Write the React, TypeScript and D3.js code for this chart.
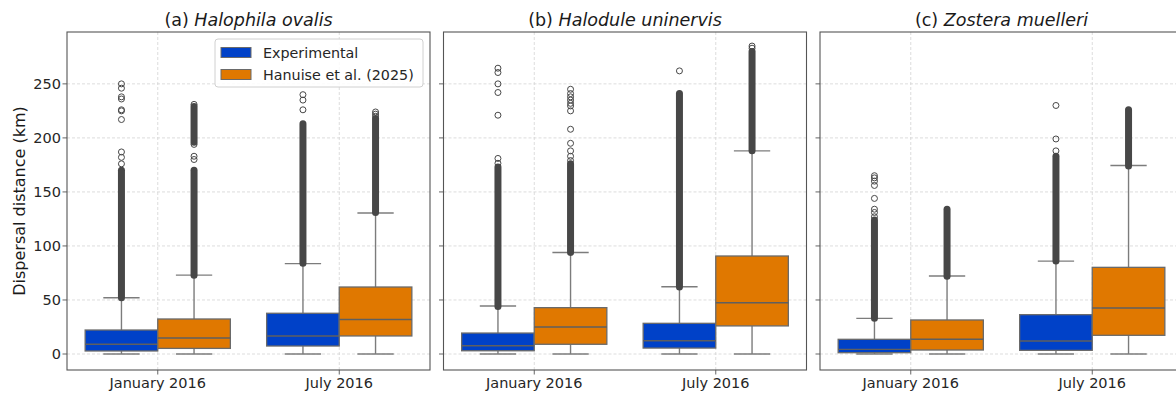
import * as d3 from "d3";

const categories = ["January 2016", "July 2016"];
const series = ["Experimental", "Hanuise et al. (2025)"];
const seriesColors = ["#0041c8", "#e07800"];
const panelLetters = ["(a)", "(b)", "(c)"];
const speciesNames = ["Halophila ovalis", "Halodule uninervis", "Zostera muelleri"];
const yTicks = [0, 50, 100, 150, 200, 250];

// box order in each panel: Jan Exp, Jan Hanuise, Jul Exp, Jul Hanuise
const q1 = [
  [2.8, 5.2, 7.4, 16.7],
  [3, 9, 5.5, 26],
  [1.2, 3.7, 3.4, 17.3],
];
const medians = [
  [9, 14.8, 16.7, 32],
  [7.7, 25, 12.3, 47.5],
  [4.3, 13.6, 12, 42.6],
];
const q3 = [
  [22.2, 32.4, 37.7, 62],
  [19.4, 42.9, 28.4, 90.7],
  [13.6, 31.5, 36.4, 80.2],
];
const whiskerLow = [
  [0, 0, 0, 0],
  [0, 0, 0, 0],
  [0, 0, 0, 0],
];
const whiskerHigh = [
  [52, 73, 83.6, 130.5],
  [44.4, 94, 62.3, 188],
  [33, 72.2, 86, 174.4],
];
// stretches where the outlier circles overlap into a solid column [from, to]
const denseFliers = [
  [[[52, 170]], [[73, 170], [196, 229]], [[84, 213]], [[131, 218]]],
  [[[44, 173]], [[94, 176]], [[62, 241]], [[188, 280]]],
  [[[33, 124]], [[72, 134]], [[86, 183]], [[174, 226]]],
];
// single outliers that stand apart
const sparseFliers = [
  [[176, 182, 187, 217, 225, 226, 236, 238, 246, 250], [180, 183, 194, 231], [226, 235, 240], [220, 222, 224]],
  [[176.5, 181, 221, 242, 250, 260.5, 264.5], [179, 183, 188, 195, 208, 225, 229.6, 232, 235, 238, 241, 245], [262], [283, 285]],
  [[127, 131, 134, 144, 156, 160, 163, 165], [], [188, 199, 230], []],
];

const W = 1176;
const H = 395;
const top = 32;
const bottom = 370;
const panelW = 363;
const panelLefts = [67, 443.5, 820];
const font = "DejaVu Sans, sans-serif";

const y = d3.scaleLinear().domain([-14.8, 298]).range([bottom, top]);

const Panel = ({ p }: { p: number }) => {
  const left = panelLefts[p];
  const x = d3.scaleBand().domain(categories).range([left, left + panelW]).padding(0);
  const inner = d3.scaleBand().domain(series).range([0, x.bandwidth()]).paddingInner(0).paddingOuter(0.25);
  const bw = inner.bandwidth();
  return (
    <g>
      <defs>
        <clipPath id={`clip${p}`}>
          <rect x={left} y={top} width={panelW} height={bottom - top} />
        </clipPath>
      </defs>
      {/* grid */}
      <g stroke="#d4d4d4" strokeWidth={0.8} strokeDasharray="3,2">
        {yTicks.map((t) => (
          <line key={t} x1={left} x2={left + panelW} y1={y(t)} y2={y(t)} />
        ))}
        {categories.map((c) => (
          <line key={c} x1={x(c)! + x.bandwidth() / 2} x2={x(c)! + x.bandwidth() / 2} y1={top} y2={bottom} />
        ))}
      </g>
      <g clipPath={`url(#clip${p})`}>
        {categories.map((c, ci) =>
          series.map((s, si) => {
            const i = ci * 2 + si;
            const x0 = x(c)! + inner(s)!;
            const cx = x0 + bw / 2;
            return (
              <g key={c + s}>
                <line x1={cx} x2={cx} y1={y(q3[p][i])} y2={y(whiskerHigh[p][i])} stroke="#7c7c7c" strokeWidth={1.4} />
                <line x1={cx} x2={cx} y1={y(q1[p][i])} y2={y(whiskerLow[p][i])} stroke="#7c7c7c" strokeWidth={1.4} />
                <line x1={cx - bw / 4} x2={cx + bw / 4} y1={y(whiskerHigh[p][i])} y2={y(whiskerHigh[p][i])} stroke="#7c7c7c" strokeWidth={1.4} />
                <line x1={cx - bw / 4} x2={cx + bw / 4} y1={y(whiskerLow[p][i])} y2={y(whiskerLow[p][i])} stroke="#7c7c7c" strokeWidth={1.4} />
                <rect
                  x={x0}
                  y={y(q3[p][i])}
                  width={bw}
                  height={y(q1[p][i]) - y(q3[p][i])}
                  fill={seriesColors[si]}
                  stroke="#6a6a6a"
                  strokeWidth={1.3}
                />
                <line x1={x0} x2={x0 + bw} y1={y(medians[p][i])} y2={y(medians[p][i])} stroke="#5f5f5f" strokeWidth={1.4} />
                {denseFliers[p][i].map(([lo, hi], k) => (
                  <line
                    key={"d" + k}
                    x1={cx}
                    x2={cx}
                    y1={y(lo)}
                    y2={y(hi)}
                    stroke="#474747"
                    strokeWidth={7}
                    strokeLinecap="round"
                  />
                ))}
                {sparseFliers[p][i].map((v, k) => (
                  <circle key={"s" + k} cx={cx} cy={y(v)} r={3} fill="none" stroke="#474747" strokeWidth={1} />
                ))}
              </g>
            );
          })
        )}
      </g>
      {/* ticks */}
      <g stroke="#555" strokeWidth={0.9}>
        {yTicks.map((t) => (
          <line key={t} x1={left - 4.5} x2={left} y1={y(t)} y2={y(t)} />
        ))}
        {categories.map((c) => (
          <line key={c} x1={x(c)! + x.bandwidth() / 2} x2={x(c)! + x.bandwidth() / 2} y1={bottom} y2={bottom + 4.5} />
        ))}
      </g>
      {p === 0 &&
        yTicks.map((t) => (
          <text key={t} x={left - 6} y={y(t)} dy="0.36em" textAnchor="end" fontSize={14.5} fill="#262626" fontFamily={font}>
            {t}
          </text>
        ))}
      {categories.map((c) => (
        <text key={c} x={x(c)! + x.bandwidth() / 2} y={387.5} textAnchor="middle" fontSize={14.5} fill="#262626" fontFamily={font}>
          {c}
        </text>
      ))}
      <rect x={left} y={top} width={panelW} height={bottom - top} fill="none" stroke="#555" strokeWidth={1.1} />
      <text x={left + panelW / 2} y={26} textAnchor="middle" fontSize={17.5} fill="#1a1a1a" fontFamily={font}>
        {panelLetters[p] + " "}
        <tspan fontStyle="italic">{speciesNames[p]}</tspan>
      </text>
    </g>
  );
};

const Legend = () => {
  const lx = 215;
  const ly = 39;
  return (
    <g fontFamily={font}>
      <rect x={lx} y={ly} width={208} height={48} rx={3} fill="white" fillOpacity={0.85} stroke="#d0d0d0" strokeWidth={1} />
      {series.map((s, i) => (
        <g key={s}>
          <rect x={lx + 6} y={ly + 8.5 + i * 22} width={30} height={10} fill={seriesColors[i]} stroke="#6a6a6a" strokeWidth={1} />
          <text x={lx + 48} y={ly + 13.5 + i * 22} dy="0.36em" fontSize={14.3} fill="#262626">
            {s}
          </text>
        </g>
      ))}
    </g>
  );
};

export default function App() {
  return (
    <svg width={W} height={H} style={{ position: "absolute", left: 0, top: 0, background: "white" }}>
      {panelLetters.map((_, p) => (
        <Panel key={p} p={p} />
      ))}
      <Legend />
      <text
        transform={`translate(19,${(top + bottom) / 2}) rotate(-90)`}
        textAnchor="middle"
        dy="0.36em"
        fontSize={16}
        fill="#1a1a1a"
        fontFamily={font}
      >
        Dispersal distance (km)
      </text>
    </svg>
  );
}
